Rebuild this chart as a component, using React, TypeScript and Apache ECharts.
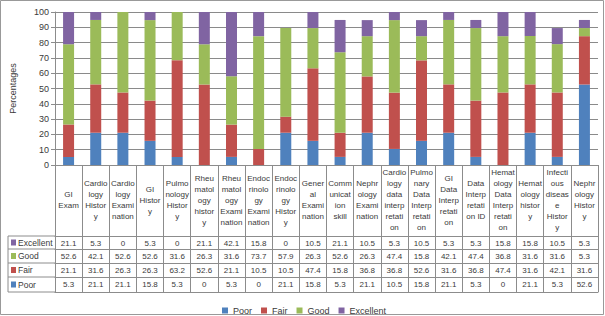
import React, { useEffect, useRef } from "react";
import * as echarts from "echarts";

const categories = [
  "GI\nExam",
  "Cardio\nlogy\nHistor\ny",
  "Cardio\nlogy\nExami\nnation",
  "GI\nHistor\ny",
  "Pulmo\nnology\nHistor\ny",
  "Rheu\nmatol\nogy\nhistor\ny",
  "Rheu\nmatol\nogy\nExami\nnation",
  "Endoc\nrinolo\ngy\nExami\nnation",
  "Endoc\nrinolo\ngy\nHistor\ny",
  "Gener\nal\nExami\nnation",
  "Comm\nunicat\nion\nskill",
  "Nephr\nology\nExami\nnation",
  "Cardio\nlogy\ndata\ninterp\nretati\non",
  "Pulmo\nnary\nData\nInterp\nretati\non",
  "GI\nData\nInterp\nretati\non",
  "Data\nInterp\nretati\non ID",
  "Hemat\nology\nData\nInterp\nretati\non",
  "Hemat\nology\nhistor\ny",
  "Infecti\nous\ndiseas\ne\nHistor\ny",
  "Nephr\nology\nHistor\ny",
];

const excellent = [21.1, 5.3, 0, 5.3, 0, 21.1, 42.1, 15.8, 0, 10.5, 21.1, 10.5, 5.3, 10.5, 5.3, 5.3, 15.8, 15.8, 10.5, 5.3];
const good = [52.6, 42.1, 52.6, 52.6, 31.6, 26.3, 31.6, 73.7, 57.9, 26.3, 52.6, 26.3, 47.4, 15.8, 42.1, 47.4, 36.8, 31.6, 31.6, 5.3];
const fair = [21.1, 31.6, 26.3, 26.3, 63.2, 52.6, 21.1, 10.5, 10.5, 47.4, 15.8, 36.8, 36.8, 52.6, 31.6, 36.8, 47.4, 31.6, 42.1, 31.6];
const poor = [5.3, 21.1, 21.1, 15.8, 5.3, 0, 5.3, 0, 21.1, 15.8, 5.3, 21.1, 10.5, 15.8, 21.1, 5.3, 0, 21.1, 5.3, 52.6];

const seriesNames = ["Poor", "Fair", "Good", "Excellent"];
const colors = ["#4F81BD", "#C0504D", "#9BBB59", "#8064A2"];
const yTicks = [0, 10, 20, 30, 40, 50, 60, 70, 80, 90, 100];

export default function App() {
  const ref = useRef<HTMLDivElement>(null);
  useEffect(() => {
    if (!ref.current) return;
    const chart = echarts.init(ref.current, undefined, { renderer: "svg" });
    const W = 605;
    const H = 316;
    const gridLeft = 55;
    const gridRight = 598;
    const axisY = 165;
    const tableRows = [
      { name: "Excellent", data: excellent, color: colors[3], top: 71 },
      { name: "Good", data: good, color: colors[2], top: 84 },
      { name: "Fair", data: fair, color: colors[1], top: 98 },
      { name: "Poor", data: poor, color: colors[0], top: 112 },
    ];
    const tableBottom = 127;
    const lineColor = "#8c8c8c";
    const font = "Liberation Sans, Arial, sans-serif";
    const textColor = "#3a3a3a";

    const rowAxes: any[] = tableRows.map((r) => ({
      type: "category",
      gridIndex: 0,
      position: "bottom",
      offset: r.top,
      data: categories,
      axisLine: { show: true, lineStyle: { color: lineColor, width: 1 } },
      axisTick: { show: false },
      axisLabel: {
        interval: 0,
        margin: 7,
        verticalAlign: "middle",
        fontSize: 8,
        fontFamily: font,
        color: textColor,
        formatter: (_v: string, i: number) => String(r.data[i]),
      },
    }));
    rowAxes.push({
      type: "category",
      gridIndex: 0,
      position: "bottom",
      offset: tableBottom,
      data: categories,
      axisLine: { show: true, lineStyle: { color: lineColor, width: 1 } },
      axisTick: { show: false },
      axisLabel: { show: false },
    });

    const graphics: any[] = [
      {
        type: "rect",
        shape: { x: 0.5, y: 0.5, width: W - 2, height: H - 2 },
        style: { fill: "none", stroke: "#999", lineWidth: 1 },
        silent: true,
      },
      {
        type: "line",
        shape: { x1: 8, y1: axisY + tableRows[0].top, x2: 8, y2: axisY + tableBottom },
        style: { stroke: lineColor, lineWidth: 1 },
      },
      {
        type: "line",
        shape: { x1: 8, y1: axisY + tableBottom, x2: gridLeft, y2: axisY + tableBottom },
        style: { stroke: lineColor, lineWidth: 1 },
      },
    ];
    tableRows.forEach((r, idx) => {
      const yTop = axisY + r.top;
      const yBot = axisY + (idx < tableRows.length - 1 ? tableRows[idx + 1].top : tableBottom);
      const yc = (yTop + yBot) / 2;
      graphics.push({
        type: "line",
        shape: { x1: 8, y1: yTop, x2: gridLeft, y2: yTop },
        style: { stroke: lineColor, lineWidth: 1 },
      });
      graphics.push({
        type: "rect",
        shape: { x: 11, y: yc - 3, width: 5, height: 6 },
        style: { fill: r.color },
      });
      graphics.push({
        type: "text",
        x: 18,
        y: yc,
        style: {
          text: r.name,
          fontSize: 8.5,
          fontFamily: font,
          fill: textColor,
          verticalAlign: "middle",
          align: "left",
        },
      });
    });

    const seriesData = [poor, fair, good, excellent];

    chart.setOption({
      animation: false,
      backgroundColor: "#fff",
      grid: { left: gridLeft, right: W - gridRight, top: 12, bottom: H - axisY },
      legend: {
        data: seriesNames,
        left: 217,
        top: 301,
        icon: "rect",
        itemWidth: 6,
        itemHeight: 6,
        itemGap: 9,
        textStyle: { fontSize: 9, fontFamily: font, color: textColor },
      },
      xAxis: [
        {
          type: "category",
          gridIndex: 0,
          position: "bottom",
          data: categories,
          axisLine: { show: true, lineStyle: { color: lineColor, width: 1 } },
          axisTick: {
            show: true,
            interval: 0,
            inside: false,
            length: tableBottom,
            lineStyle: { color: lineColor, width: 1 },
          },
          axisLabel: {
            interval: 0,
            margin: 35,
            verticalAlign: "middle",
            fontSize: 8,
            lineHeight: 11,
            fontFamily: font,
            color: textColor,
            align: "center",
          },
        },
        ...rowAxes,
      ],
      yAxis: {
        type: "value",
        min: yTicks[0],
        max: yTicks[yTicks.length - 1],
        interval: 10,
        name: "Percentages",
        nameLocation: "middle",
        nameGap: 38,
        nameTextStyle: { fontSize: 9, fontFamily: font, color: textColor },
        axisLine: { show: true, lineStyle: { color: lineColor } },
        axisTick: { show: true, length: 4, lineStyle: { color: lineColor } },
        axisLabel: { fontSize: 9, fontFamily: font, color: textColor, margin: 6 },
        splitLine: { show: true, lineStyle: { color: "#8a8a8a", width: 1 } },
      },
      series: seriesNames.map((name, i) => ({
        name,
        type: "bar",
        stack: "total",
        xAxisIndex: 0,
        barWidth: 11,
        data: seriesData[i],
        itemStyle: { color: colors[i] },
      })),
      graphic: graphics,
    });
    return () => chart.dispose();
  }, []);
  return (
    <div
      ref={ref}
      style={{ position: "fixed", left: 0, top: 0, width: 605, height: 316 }}
    />
  );
}
